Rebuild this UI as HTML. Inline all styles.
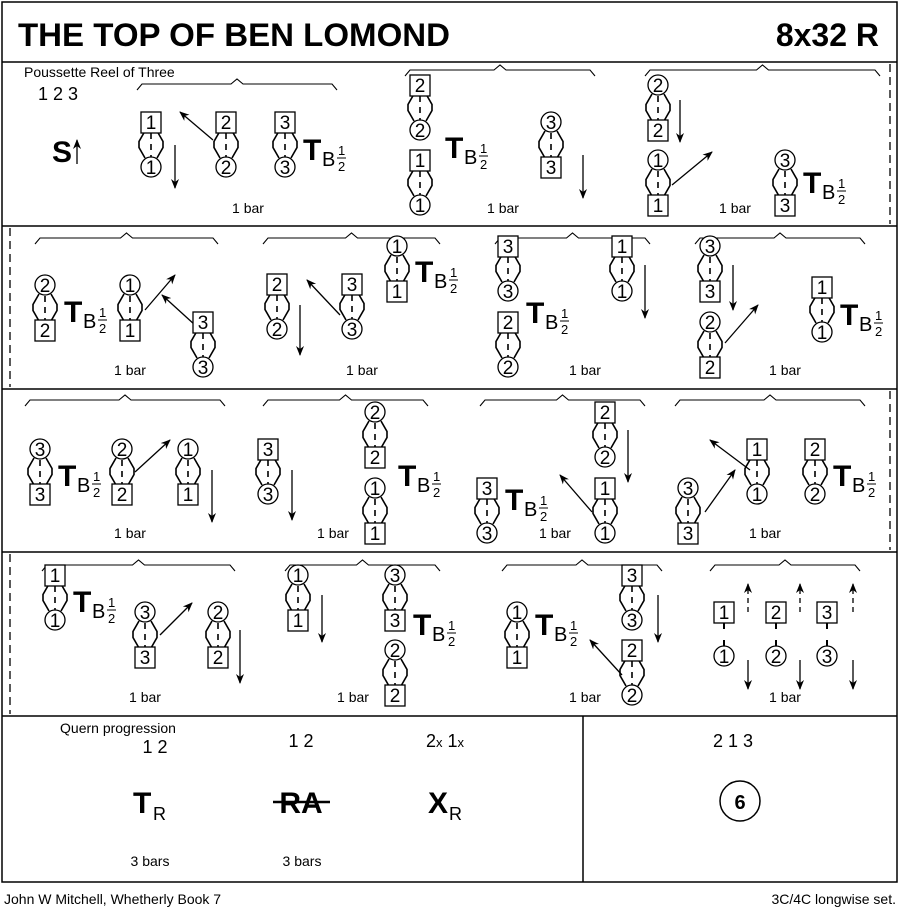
<!DOCTYPE html>
<html><head><meta charset="utf-8"><style>
html,body{margin:0;padding:0;background:#fff}
svg{display:block}
text{font-family:"Liberation Sans",sans-serif;fill:#000}
</style></head><body>
<svg id="s" width="900" height="914" viewBox="0 0 900 914" xmlns="http://www.w3.org/2000/svg">
<defs><marker id="ah" markerWidth="10" markerHeight="10" refX="9" refY="5" orient="auto" markerUnits="userSpaceOnUse"><path d="M0,1 L10,5 L0,9 L3,5 Z" fill="#000"/></marker></defs>
<g fill="none" stroke="#000" stroke-width="1.5">
<rect x="2" y="2" width="895" height="880"/>
<line x1="2" y1="62" x2="897" y2="62"/>
<line x1="2" y1="226" x2="897" y2="226"/>
<line x1="2" y1="389" x2="897" y2="389"/>
<line x1="2" y1="552" x2="897" y2="552"/>
<line x1="2" y1="716" x2="897" y2="716"/>
<line x1="583" y1="716" x2="583" y2="882"/>
</g>
<g stroke="#000" stroke-width="1.3" stroke-dasharray="8,5">
<line x1="890" y1="64" x2="890" y2="224"/>
<line x1="10" y1="228" x2="10" y2="387"/>
<line x1="890" y1="391" x2="890" y2="550"/>
<line x1="10" y1="554" x2="10" y2="714"/>
</g>
<text x="18" y="46" font-size="32" font-weight="bold" textLength="432" lengthAdjust="spacingAndGlyphs">THE TOP OF BEN LOMOND</text>
<text x="879" y="46" font-size="32" font-weight="bold" text-anchor="end">8x32 R</text>
<text x="24" y="77" font-size="14">Poussette Reel of Three</text>
<text x="38" y="100" font-size="18">1 2 3</text>
<text x="52" y="162" font-size="30" font-weight="bold">S</text>
<g id="g"></g>
<text x="118" y="733" font-size="14" text-anchor="middle">Quern progression</text>
<text x="155" y="753" font-size="18" text-anchor="middle">1 2</text>
<text x="301" y="747" font-size="18" text-anchor="middle">1 2</text>
<text x="426" y="747" font-size="18">2<tspan font-size="13">x</tspan> 1<tspan font-size="13">x</tspan></text>
<text x="733" y="747" font-size="18" text-anchor="middle">2 1 3</text>
<text x="133" y="813" font-size="30" font-weight="bold">T</text><text x="153" y="820" font-size="18">R</text>
<text x="301" y="813" font-size="30" font-weight="bold" text-anchor="middle">RA</text>
<line x1="273" y1="802" x2="330" y2="802" stroke="#000" stroke-width="2.5"/>
<text x="428" y="813" font-size="30" font-weight="bold">X</text><text x="449" y="820" font-size="18">R</text>
<circle cx="740" cy="801" r="20" fill="none" stroke="#000" stroke-width="1.5"/>
<text x="740" y="809" font-size="20" font-weight="bold" text-anchor="middle">6</text>
<text x="150" y="866" font-size="14" text-anchor="middle">3 bars</text>
<text x="302" y="866" font-size="14" text-anchor="middle">3 bars</text>
<text x="4" y="904" font-size="14">John W Mitchell, Whetherly Book 7</text>
<text x="896" y="904" font-size="14" text-anchor="end">3C/4C longwise set.</text>
</svg>
<script>
var g=document.getElementById('g'),h='';
function sym(t,n,x,y){
 if(t=='b')h+='<rect x="'+(x-10)+'" y="'+(y-10)+'" width="20" height="21" fill="#fff" stroke="#000" stroke-width="1.3"/>';
 else h+='<circle cx="'+x+'" cy="'+y+'" r="10" fill="#fff" stroke="#000" stroke-width="1.3"/>';
 h+='<text x="'+x+'" y="'+(y+7)+'" font-size="19" text-anchor="middle">'+n+'</text>';
}
function P(x,y,t1,n1,t2,n2){
 var a=y+9,b=y+36,m=(a+b)/2;
 h+='<path d="M'+(x-6)+','+a+' L'+(x-12)+','+(m-3)+' L'+(x-12)+','+(m+3)+' L'+(x-6)+','+b+' M'+(x+6)+','+a+' L'+(x+12)+','+(m-3)+' L'+(x+12)+','+(m+3)+' L'+(x+6)+','+b+'" fill="none" stroke="#000" stroke-width="1.6"/>';
 h+='<line x1="'+x+'" y1="'+a+'" x2="'+x+'" y2="'+b+'" stroke="#000" stroke-width="1.6" stroke-dasharray="6,5" stroke-dashoffset="-2"/>';
 sym(t1,n1,x,y);sym(t2,n2,x,y+45);
}
function T(x,y){h+='<text x="'+x+'" y="'+y+'" font-size="30" font-weight="bold">T</text><text x="'+(x+19)+'" y="'+(y+6)+'" font-size="20">B</text><text x="'+(x+35)+'" y="'+(y-5)+'" font-size="13">1</text><line x1="'+(x+34)+'" y1="'+(y-2)+'" x2="'+(x+43)+'" y2="'+(y-2)+'" stroke="#000" stroke-width="1"/><text x="'+(x+35)+'" y="'+(y+11)+'" font-size="13">2</text>';}
function A(x1,y1,x2,y2,d){h+='<line x1="'+x1+'" y1="'+y1+'" x2="'+x2+'" y2="'+y2+'" stroke="#000" stroke-width="1.3" marker-end="url(#ah)"'+(d?' stroke-dasharray="5,4"':'')+'/>';}
function B(x1,x2,y){var m=(x1+x2)/2;h+='<path d="M'+x1+','+(y+6)+' L'+(x1+5)+','+y+' L'+(m-6)+','+y+' L'+m+','+(y-5)+' L'+(m+6)+','+y+' L'+(x2-5)+','+y+' L'+x2+','+(y+6)+'" fill="none" stroke="#000" stroke-width="1.1"/>';}
function L(x,y){h+='<text x="'+x+'" y="'+y+'" font-size="14" text-anchor="middle">1 bar</text>';}
A(77,164,77,140);
B(137,337,84);L(248,213);
P(151,122,'b',1,'c',1);A(175,145,175,188);A(213,140,180,112);
P(226,122,'b',2,'c',2);P(285,122,'b',3,'c',3);T(303,160);
B(405,595,70);L(503,213);
P(420,85,'b',2,'c',2);P(420,160,'b',1,'c',1);T(445,158);
P(551,122,'c',3,'b',3);A(583,155,583,198);
B(645,880,70);L(735,213);
P(658,85,'c',2,'b',2);A(680,100,680,142);P(658,160,'c',1,'b',1);A(672,185,712,152);
P(785,160,'c',3,'b',3);T(803,193);
B(35,218,238);L(130,375);
P(45,285,'c',2,'b',2);T(64,322);P(130,285,'c',1,'b',1);A(145,310,175,275);A(195,325,162,295);P(203,322,'b',3,'c',3);
B(263,440,238);L(362,375);
P(277,284,'b',2,'c',2);A(300,305,300,355);A(340,315,307,280);P(352,284,'b',3,'c',3);P(397,246,'c',1,'b',1);T(415,282);
B(495,650,238);L(585,375);
P(508,246,'b',3,'c',3);T(526,323);P(508,322,'b',2,'c',2);P(622,246,'b',1,'c',1);A(645,265,645,318);
B(695,865,238);L(785,375);
P(710,246,'c',3,'b',3);A(733,265,733,310);P(710,322,'c',2,'b',2);A(725,343,758,305);P(822,287,'b',1,'c',1);T(840,325);
B(25,225,400);L(130,538);
P(40,449,'c',3,'b',3);T(58,486);P(122,449,'c',2,'b',2);A(135,472,170,440);P(188,449,'c',1,'b',1);A(212,470,212,522);
B(263,428,400);L(333,538);
P(268,449,'b',3,'c',3);A(292,470,292,520);P(375,412,'c',2,'b',2);P(375,488,'c',1,'b',1);T(398,486);
B(480,645,400);L(555,538);
P(487,488,'b',3,'c',3);T(505,510);P(605,412,'b',2,'c',2);A(628,430,628,482);P(605,488,'b',1,'c',1);A(592,512,560,475);
B(675,865,400);L(765,538);
P(688,488,'c',3,'b',3);A(705,512,735,470);P(757,449,'b',1,'c',1);A(750,470,710,440);P(815,449,'b',2,'c',2);T(833,486);
B(42,235,565);L(145,702);
P(55,575,'b',1,'c',1);T(73,612);P(145,612,'c',3,'b',3);A(160,635,192,603);P(218,612,'c',2,'b',2);A(240,630,240,683);
B(285,440,565);L(353,702);
P(298,575,'c',1,'b',1);A(322,595,322,642);P(395,575,'c',3,'b',3);T(413,635);P(395,650,'c',2,'b',2);
B(502,662,565);L(585,702);
P(517,612,'c',1,'b',1);T(535,635);P(632,575,'b',3,'c',3);A(658,595,658,642);P(632,650,'b',2,'c',2);A(622,675,590,640);
B(710,860,565);L(785,702);
[[724,748],[776,800],[827,853]].forEach(function(p,i){
 h+='<line x1="'+p[0]+'" y1="622" x2="'+p[0]+'" y2="629" stroke="#000" stroke-width="2"/><line x1="'+p[0]+'" y1="640" x2="'+p[0]+'" y2="646" stroke="#000" stroke-width="2"/>';
 sym('b',i+1,p[0],612);sym('c',i+1,p[0],656);A(p[1],612,p[1],584,1);A(p[1],660,p[1],689);
});
g.innerHTML=h;
</script>
</body></html>
